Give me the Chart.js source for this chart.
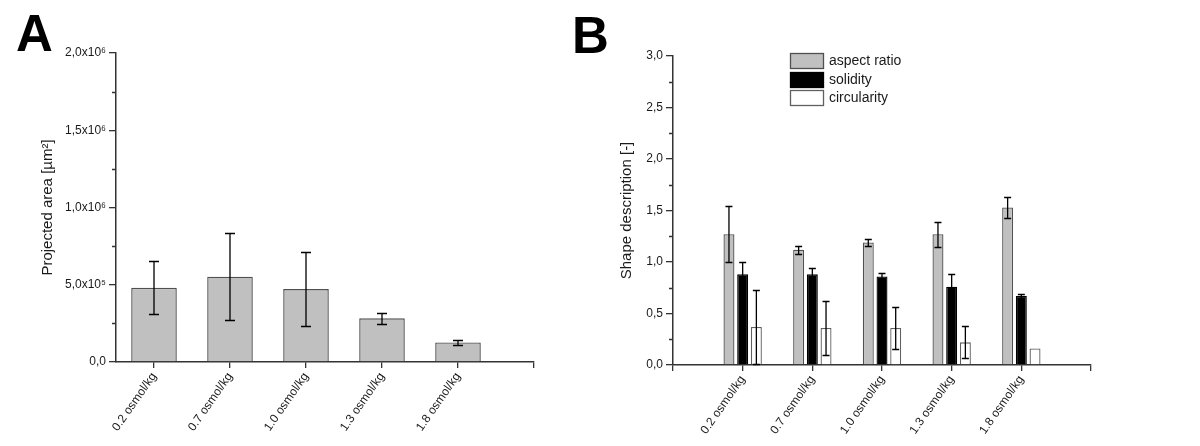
<!DOCTYPE html>
<html>
<head>
<meta charset="utf-8">
<script src="https://cdn.jsdelivr.net/npm/chart.js@4.4.0/dist/chart.umd.min.js"></script>
<style>
    body { margin: 0; background: #fff; width: 1200px; height: 446px; position: relative; overflow: hidden; font-family: "Liberation Sans", Arial, sans-serif; }
    .panel-letter { position: absolute; font-weight: bold; font-size: 51px; line-height: 1; color: #000; }
    canvas { position: absolute; top: 0; }
</style>
</head>
<body>
<div class="panel-letter" style="left:16px;top:8px">A</div>
<div class="panel-letter" style="left:572px;top:10px">B</div>
<canvas id="chartA" width="600" height="446" style="left:0"></canvas>
<canvas id="chartB" width="600" height="446" style="left:600px"></canvas>
<script>
// data //
var categories = ['0.2 osmol/kg', '0.7 osmol/kg', '1.0 osmol/kg', '1.3 osmol/kg', '1.8 osmol/kg'];

var areaMean = [480000, 552000, 472000, 283000, 127000];
var areaErr = [171000, 280000, 238000, 37000, 15000];
var areaTicks = ['0,0', '5,0x10⁵', '1,0x10⁶', '1,5x10⁶', '2,0x10⁶'];

var seriesNames = ['aspect ratio', 'solidity', 'circularity'];
var aspectRatio = [1.27, 1.12, 1.19, 1.27, 1.53];
var aspectErr = [0.27, 0.04, 0.03, 0.12, 0.10];
var solidity = [0.88, 0.88, 0.86, 0.76, 0.67];
var solidityErr = [0.12, 0.06, 0.03, 0.12, 0.02];
var circularity = [0.37, 0.36, 0.36, 0.22, 0.16];
var circularityErr = [0.36, 0.26, 0.20, 0.155, 0];
var shapeTicks = ['0,0', '0,5', '1,0', '1,5', '2,0', '2,5', '3,0'];
// data //

Chart.defaults.font.family = '"Liberation Sans", Arial, sans-serif';
Chart.defaults.color = '#1a1a1a';
Chart.defaults.animation = false;

function points(values) {
    return values.map(function (v, i) { return { x: i, y: v }; });
}

// 誤差線
function errorBars(errs, cap) {
    return {
        id: 'errorBars',
        afterDatasetsDraw: function (chart) {
            var ctx = chart.ctx;
            var y = chart.scales.y;
            ctx.save();
            ctx.strokeStyle = '#000';
            ctx.lineWidth = 1.3;
            chart.data.datasets.forEach(function (ds, d) {
                var meta = chart.getDatasetMeta(d);
                meta.data.forEach(function (bar, i) {
                    var e = errs[d][i];
                    if (!e) return;
                    var v = ds.data[i].y;
                    var top = Math.round(y.getPixelForValue(v + e)) + 0.5;
                    var bot = Math.round(y.getPixelForValue(v - e)) + 0.5;
                    ctx.beginPath();
                    ctx.moveTo(bar.x, top); ctx.lineTo(bar.x, bot);
                    ctx.moveTo(bar.x - cap, top); ctx.lineTo(bar.x + cap, top);
                    ctx.moveTo(bar.x - cap, bot); ctx.lineTo(bar.x + cap, bot);
                    ctx.stroke();
                });
            });
            ctx.restore();
        }
    };
}

// 次刻度
function minorTicks(step) {
    return {
        id: 'minorTicks',
        afterDraw: function (chart) {
            var ctx = chart.ctx;
            var s = chart.scales.y;
            var left = chart.chartArea.left;
            ctx.save();
            ctx.strokeStyle = '#333';
            ctx.lineWidth = 1.3;
            ctx.beginPath();
            for (var v = s.min + step / 2; v < s.max; v += step) {
                var py = Math.round(s.getPixelForValue(v)) + 0.5;
                ctx.moveTo(left - 4, py);
                ctx.lineTo(left, py);
            }
            ctx.stroke();
            ctx.restore();
        }
    };
}

function xTicks(from) {
    var t = [];
    if (from !== undefined) t.push({ value: from });
    categories.forEach(function (c, i) { t.push({ value: i }); });
    t.push({ value: categories.length });
    return t;
}

var axisColor = '#333';

// A //
new Chart(document.getElementById('chartA').getContext('2d'), {
    type: 'bar',
    data: {
        datasets: [{
            label: 'Projected area',
            data: points(areaMean),
            backgroundColor: '#c0c0c0',
            borderColor: '#505050',
            borderWidth: 1.4,
            categoryPercentage: 1,
            barPercentage: 0.6
        }]
    },
    options: {
        responsive: false,
        layout: { padding: { left: 39, top: 53, right: 66, bottom: 0 } },
        plugins: { legend: { display: false }, tooltip: { enabled: false } },
        scales: {
            x: {
                type: 'linear', min: -0.5, max: categories.length, offset: false,
                afterBuildTicks: function (s) { s.ticks = xTicks(); },
                afterFit: function (s) { s.height = 84; },
                ticks: {
                    autoSkip: false, minRotation: 55, maxRotation: 55, padding: 2,
                    font: { size: 12 },
                    callback: function (v) { return categories[v] || ''; }
                },
                grid: { drawOnChartArea: false, offset: false, tickLength: 6, color: axisColor, lineWidth: 1.3 },
                border: { color: axisColor, width: 1.5 }
            },
            y: {
                min: 0, max: 2000000,
                afterFit: function (s) { s.width = 77; },
                ticks: {
                    stepSize: 500000, padding: 3, font: { size: 12 },
                    callback: function (v, i) { return areaTicks[i]; }
                },
                grid: { drawOnChartArea: false, tickLength: 7, color: axisColor, lineWidth: 1.3 },
                border: { color: axisColor, width: 1.5 },
                title: { display: true, text: 'Projected area [µm²]', font: { size: 15 }, padding: 0 }
            }
        }
    },
    plugins: [errorBars([areaErr], 5), minorTicks(500000)]
});

// B //
var shapeLegend = {
    id: 'shapeLegend',
    afterDraw: function (chart) {
        var ctx = chart.ctx;
        ctx.save();
        chart.data.datasets.forEach(function (ds, i) {
            var y = Math.round(53 + i * 18.5);
            ctx.fillStyle = ds.backgroundColor;
            ctx.fillRect(190, y, 34, 16);
            ctx.strokeStyle = ds.borderColor;
            ctx.lineWidth = 1.3;
            ctx.strokeRect(190.5, y + 0.5, 33, 15);
            ctx.fillStyle = '#1a1a1a';
            ctx.font = '14px "Liberation Sans", Arial, sans-serif';
            ctx.textBaseline = 'middle';
            ctx.fillText(ds.label, 229, y + 8.5);
        });
        ctx.restore();
    }
};

new Chart(document.getElementById('chartB').getContext('2d'), {
    type: 'bar',
    data: {
        datasets: [{
            label: seriesNames[0],
            data: points(aspectRatio),
            backgroundColor: '#c0c0c0',
            borderColor: '#505050',
            borderWidth: 1.3
        }, {
            label: seriesNames[1],
            data: points(solidity),
            backgroundColor: '#000',
            borderColor: '#000',
            borderWidth: 1.3
        }, {
            label: seriesNames[2],
            data: points(circularity),
            backgroundColor: '#fff',
            borderColor: '#606060',
            borderWidth: 1.3
        }]
    },
    options: {
        responsive: false,
        layout: { padding: { left: 18, top: 56, right: 109, bottom: 0 } },
        datasets: { bar: { categoryPercentage: 0.59, barPercentage: 0.8 } },
        plugins: { legend: { display: false }, tooltip: { enabled: false } },
        scales: {
            x: {
                type: 'linear', min: -1, max: categories.length, offset: false,
                afterBuildTicks: function (s) { s.ticks = xTicks(-1); },
                afterFit: function (s) { s.height = 81; },
                ticks: {
                    autoSkip: false, minRotation: 55, maxRotation: 55, padding: 2,
                    font: { size: 12 },
                    callback: function (v) { return categories[v] || ''; }
                },
                grid: { drawOnChartArea: false, offset: false, tickLength: 6, color: axisColor, lineWidth: 1.3 },
                border: { color: axisColor, width: 1.5 }
            },
            y: {
                min: 0, max: 3,
                afterFit: function (s) { s.width = 55; },
                ticks: {
                    stepSize: 0.5, padding: 3, font: { size: 12 },
                    callback: function (v, i) { return shapeTicks[i]; }
                },
                grid: { drawOnChartArea: false, tickLength: 7, color: axisColor, lineWidth: 1.3 },
                border: { color: axisColor, width: 1.5 },
                title: { display: true, text: 'Shape description [-]', font: { size: 15 }, padding: 0 }
            }
        }
    },
    plugins: [errorBars([aspectErr, solidityErr, circularityErr], 3.5), minorTicks(0.5), shapeLegend]
});
</script>
</body>
</html>
